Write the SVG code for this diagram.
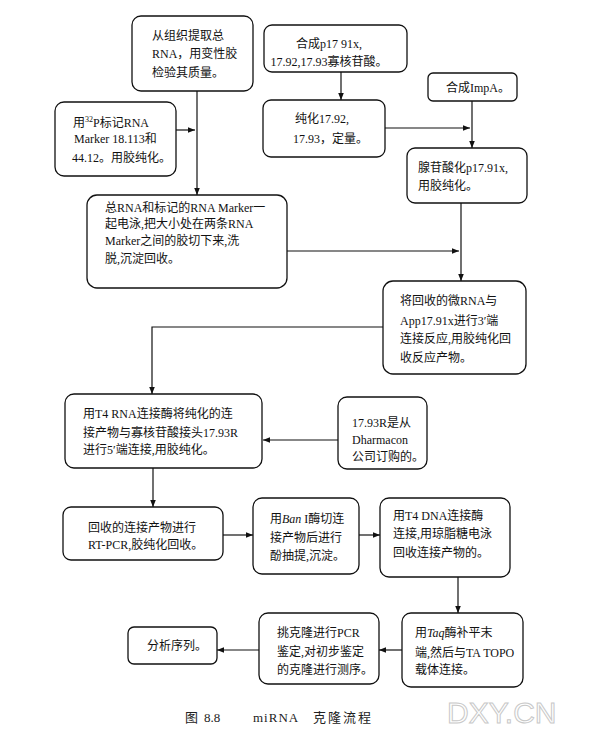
<svg xmlns="http://www.w3.org/2000/svg" width="598" height="736" viewBox="0 0 598 736">
<style>
.box{fill:#fff;stroke:#111;stroke-width:1.3}
.t{font-family:"Liberation Serif","Noto Sans CJK SC",serif;font-size:12px;fill:#111}
.c{stroke:#111;stroke-width:1.2;fill:none}
.cap{font-family:"Liberation Serif","Noto Sans CJK SC",serif;font-size:13px;fill:#222}
.wm{font-family:"Liberation Sans","DejaVu Sans",sans-serif;font-size:30px;fill:#fff;stroke:#c8c8c8;stroke-width:1}
</style>
<defs>
<marker id="ah" viewBox="0 0 10 10" refX="10" refY="5" markerWidth="7" markerHeight="7" markerUnits="userSpaceOnUse" orient="auto">
<path d="M0,1 L10,5 L0,9 z" fill="#111"/>
</marker>
</defs>
<rect width="598" height="736" fill="#fff"/>
<g id="connectors">
<path class="c" d="M197,91 V195" marker-end="url(#ah)"/>
<path class="c" d="M176,130 H195" marker-end="url(#ah)"/>
<path class="c" d="M341,72 V100" marker-end="url(#ah)"/>
<path class="c" d="M385,128 H470" marker-end="url(#ah)"/>
<path class="c" d="M472,101 V148" marker-end="url(#ah)"/>
<path class="c" d="M461,203 V281" marker-end="url(#ah)"/>
<path class="c" d="M287,251 H459" marker-end="url(#ah)"/>
<path class="c" d="M383,327 H152 V394" marker-end="url(#ah)"/>
<path class="c" d="M338,440 H263" marker-end="url(#ah)"/>
<path class="c" d="M153,468 V507" marker-end="url(#ah)"/>
<path class="c" d="M223,535 H253" marker-end="url(#ah)"/>
<path class="c" d="M359,535 H380" marker-end="url(#ah)"/>
<path class="c" d="M458,577 V613" marker-end="url(#ah)"/>
<path class="c" d="M402,650 H379" marker-end="url(#ah)"/>
<path class="c" d="M259,650 H217" marker-end="url(#ah)"/>
</g>
<g id="n1">
<rect class="box" x="132" y="16" width="121" height="75" rx="9"/>
<text class="t" x="152" y="40">从组织提取总</text>
<text class="t" x="152" y="58">RNA，用变性胶</text>
<text class="t" x="152" y="77">检验其质量。</text>
</g>
<g id="n2">
<rect class="box" x="55" y="102" width="121" height="74" rx="9"/>
<text class="t" x="73" y="127">用<tspan font-size="8" dy="-5">32</tspan><tspan dy="5">P标记RNA</tspan></text>
<text class="t" x="74" y="143">Marker 18.113和</text>
<text class="t" x="72" y="162">44.12。用胶纯化。</text>
</g>
<g id="n3">
<rect class="box" x="264" y="25" width="143" height="47" rx="8"/>
<text class="t" x="329" y="48" text-anchor="middle">合成p17 91x,</text>
<text class="t" x="329" y="66" text-anchor="middle">17.92,17.93寡核苷酸。</text>
</g>
<g id="n4">
<rect class="box" x="263" y="100" width="122" height="57" rx="8"/>
<text class="t" x="295" y="123">纯化17.92,</text>
<text class="t" x="293" y="143">17.93，定量。</text>
</g>
<g id="n5">
<rect class="box" x="428" y="73" width="89" height="28" rx="5"/>
<text class="t" x="446" y="92">合成ImpA。</text>
</g>
<g id="n6">
<rect class="box" x="407" y="148" width="120" height="55" rx="8"/>
<text class="t" x="418" y="172">腺苷酸化p17.91x,</text>
<text class="t" x="418" y="190">用胶纯化。</text>
</g>
<g id="n7">
<rect class="box" x="87" y="195" width="200" height="93" rx="10"/>
<text class="t" x="105" y="212">总RNA和标记的RNA Marker一</text>
<text class="t" x="105" y="228">起电泳,把大小处在两条RNA</text>
<text class="t" x="105" y="245">Marker之间的胶切下来,洗</text>
<text class="t" x="105" y="263">脱,沉淀回收。</text>
</g>
<g id="n8">
<rect class="box" x="383" y="281" width="143" height="93" rx="10"/>
<text class="t" x="400" y="305">将回收的微RNA与</text>
<text class="t" x="400" y="325">App17.91x进行3′端</text>
<text class="t" x="400" y="343">连接反应,用胶纯化回</text>
<text class="t" x="400" y="362">收反应产物。</text>
</g>
<g id="n9">
<rect class="box" x="65" y="394" width="197" height="74" rx="9"/>
<text class="t" x="83" y="418">用T4 RNA连接酶将纯化的连</text>
<text class="t" x="83" y="437">接产物与寡核苷酸接头17.93R</text>
<text class="t" x="83" y="454">进行5′端连接,用胶纯化。</text>
</g>
<g id="n10">
<rect class="box" x="338" y="397" width="89" height="72" rx="9"/>
<text class="t" x="352" y="427">17.93R是从</text>
<text class="t" x="352" y="444">Dharmacon</text>
<text class="t" x="352" y="461">公司订购的。</text>
</g>
<g id="n11">
<rect class="box" x="63" y="507" width="160" height="53" rx="8"/>
<text class="t" x="88" y="532">回收的连接产物进行</text>
<text class="t" x="88" y="549">RT-PCR,胶纯化回收。</text>
</g>
<g id="n12">
<rect class="box" x="253" y="498" width="106" height="76" rx="9"/>
<text class="t" x="270" y="523">用<tspan font-style="italic">Ban</tspan> I酶切连</text>
<text class="t" x="270" y="542">接产物后进行</text>
<text class="t" x="270" y="560">酚抽提,沉淀。</text>
</g>
<g id="n13">
<rect class="box" x="380" y="498" width="130" height="79" rx="9"/>
<text class="t" x="393" y="520">用T4 DNA连接酶</text>
<text class="t" x="393" y="538">连接,用琼脂糖电泳</text>
<text class="t" x="393" y="557">回收连接产物的。</text>
</g>
<g id="n14">
<rect class="box" x="402" y="613" width="121" height="74" rx="9"/>
<text class="t" x="415" y="637">用<tspan font-style="italic">Taq</tspan>酶补平末</text>
<text class="t" x="415" y="657">端,然后与TA TOPO</text>
<text class="t" x="415" y="674">载体连接。</text>
</g>
<g id="n15">
<rect class="box" x="259" y="613" width="120" height="71" rx="9"/>
<text class="t" x="277" y="637">挑克隆进行PCR</text>
<text class="t" x="277" y="656">鉴定,对初步鉴定</text>
<text class="t" x="277" y="674">的克隆进行测序。</text>
</g>
<g id="n16">
<rect class="box" x="128" y="627" width="89" height="37" rx="6"/>
<text class="t" x="147" y="650">分析序列。</text>
</g>
<text class="cap" y="722" xml:space="preserve"><tspan x="185">图</tspan><tspan x="204">8.8</tspan><tspan x="253" letter-spacing="1">miRNA</tspan><tspan x="313" letter-spacing="2">克隆流程</tspan></text>
<text class="wm" x="447" y="723">DXY.CN</text>
</svg>
